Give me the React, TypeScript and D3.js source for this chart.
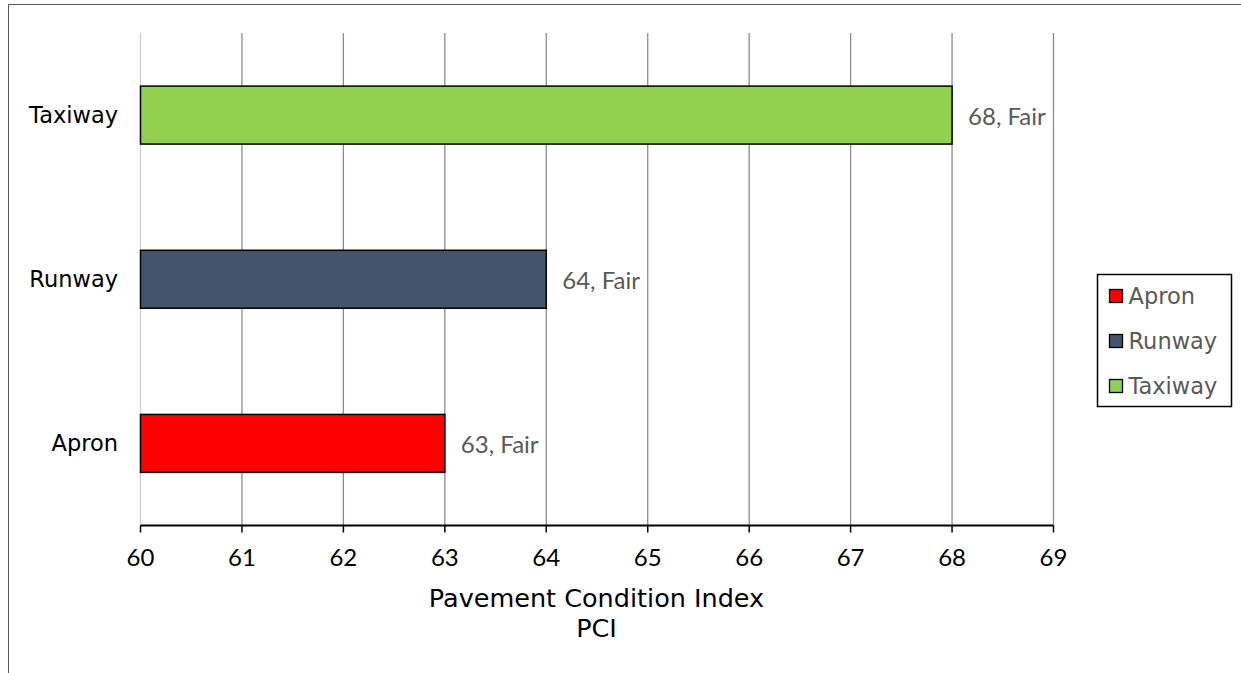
import * as d3 from 'd3'

const categories = ['Apron', 'Runway', 'Taxiway']
const pciValues = [63, 64, 68]
const conditionLabels = ['Fair', 'Fair', 'Fair']
const barColors = ['#FF0000', '#44546A', '#92D050']
const xTicks = [60, 61, 62, 63, 64, 65, 66, 67, 68, 69]

const labelFont = '"DejaVu Sans", "Liberation Sans", sans-serif'
const tickFont = 'Lato, "Open Sans", sans-serif'

export default function App() {
  const width = 1241
  const height = 673
  const left = 140.5
  const right = 1053.5
  const top = 33
  const bottom = 525.5

  const x = d3.scaleLinear().domain([60, 69]).range([left, right])
  // Taxiway on top, Apron at the bottom
  const y = d3
    .scaleBand<string>()
    .domain([...categories].reverse())
    .range([top, bottom])
    .paddingInner(0.647)
    .paddingOuter(0.3235)

  const legendRows = categories.map((c, i) => ({ c, color: barColors[i] }))

  return (
    <svg
      width={width}
      height={height}
      style={{ position: 'absolute', left: 0, top: 0, background: '#fff' }}
    >
      {/* outer chart frame */}
      <rect x={8.5} y={4.5} width={1260} height={700} fill="none" stroke="#595959" strokeWidth={1} />

      {/* gridlines */}
      {xTicks.map((t) => (
        <line
          key={t}
          x1={x(t)}
          x2={x(t)}
          y1={top}
          y2={bottom}
          stroke={t === 60 ? '#d0d0d0' : '#8c8c8c'}
          strokeWidth={1.3}
        />
      ))}

      {/* bars */}
      {categories.map((c, i) => (
        <g key={c}>
          <rect
            x={x(60)}
            y={y(c)!}
            width={x(pciValues[i]) - x(60)}
            height={y.bandwidth()}
            fill={barColors[i]}
            stroke="#000"
            strokeWidth={1.5}
          />
          <text
            x={x(pciValues[i]) + 16}
            y={y(c)! + y.bandwidth() / 2}
            dominantBaseline="central"
            fontFamily={tickFont}
            fontSize={24}
            fill="#595959"
          >
            {`${pciValues[i]}, ${conditionLabels[i]}`}
          </text>
          <text
            x={118}
            y={y(c)! + y.bandwidth() / 2}
            textAnchor="end"
            dominantBaseline="central"
            fontFamily={labelFont}
            fontSize={22.5}
            fill="#000"
          >
            {c}
          </text>
        </g>
      ))}

      {/* x axis */}
      <line x1={left} x2={right} y1={bottom} y2={bottom} stroke="#000" strokeWidth={2} />
      {xTicks.map((t) => (
        <g key={t}>
          <line x1={x(t)} x2={x(t)} y1={bottom} y2={bottom + 7} stroke="#000" strokeWidth={1.5} />
          <text
            x={x(t)}
            y={556}
            textAnchor="middle"
            dominantBaseline="central"
            fontFamily={tickFont}
            fontSize={24}
            fill="#000"
          >
            {t}
          </text>
        </g>
      ))}

      <text x={596.5} y={598} textAnchor="middle" dominantBaseline="central" fontFamily={labelFont} fontSize={25.5} fill="#000">
        Pavement Condition Index
      </text>
      <text x={596.5} y={628} textAnchor="middle" dominantBaseline="central" fontFamily={labelFont} fontSize={25.5} fill="#000">
        PCI
      </text>

      {/* legend */}
      <rect x={1097.5} y={274.5} width={134} height={132} fill="#fff" stroke="#000" strokeWidth={1.5} />
      {legendRows.map((r, i) => (
        <g key={r.c} transform={`translate(1109.5, ${296 + i * 45})`}>
          <rect x={0} y={-6.5} width={13} height={13} fill={r.color} stroke="#000" strokeWidth={1.3} />
          <text x={19} y={0} dominantBaseline="central" fontFamily={labelFont} fontSize={22.5} fill="#595959">
            {r.c}
          </text>
        </g>
      ))}
    </svg>
  )
}
